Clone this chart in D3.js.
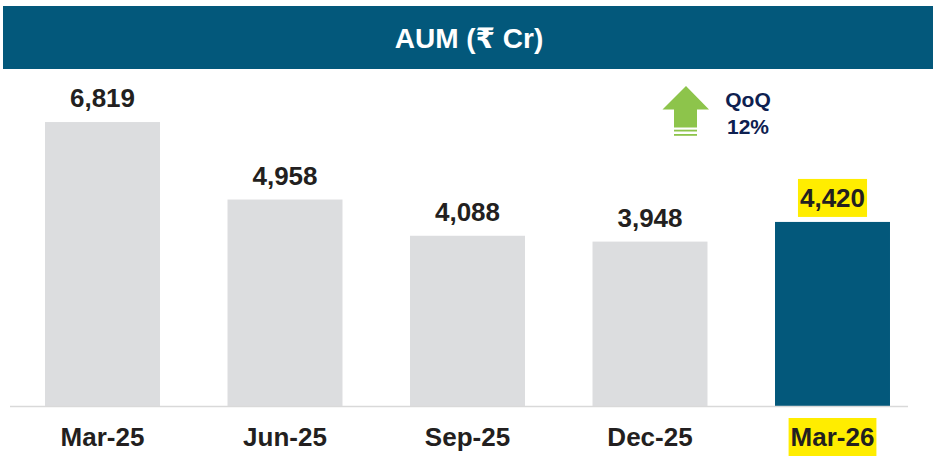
<!DOCTYPE html>
<html>
<head>
<meta charset="utf-8">
<script src="https://cdn.jsdelivr.net/npm/d3@7"></script>
<style>
  body { margin: 0; background: #fff; }
  text { font-family: "Liberation Sans", Arial, "DejaVu Sans", sans-serif; font-weight: bold; }
</style>
</head>
<body>
<div id="chart"></div>
<script>
// Data
var categories = ["Mar-25", "Jun-25", "Sep-25", "Dec-25", "Mar-26"];
var aumValues = [6819, 4958, 4088, 3948, 4420];
var valueLabels = ["6,819", "4,958", "4,088", "3,948", "4,420"];
var highlight = "Mar-26";
var titleText = "AUM (\u20B9 Cr)";
var qoqLines = ["QoQ", "12%"];

var svgWidth = 933;
var svgHeight = 456;
var baseY = 406;

var svg = d3.select("#chart")
  .append("svg")
  .attr("width", svgWidth)
  .attr("height", svgHeight);

// Title banner
svg.append("rect")
  .attr("x", 3)
  .attr("y", 6)
  .attr("width", 930)
  .attr("height", 63)
  .attr("fill", "#03587b");

svg.append("text")
  .attr("x", 469)
  .attr("y", 48)
  .attr("text-anchor", "middle")
  .attr("font-size", "28px")
  .attr("fill", "#fff")
  .text(titleText);

// Scales
var x = d3.scaleBand()
  .domain(categories)
  .range([11.25, 923.75])
  .paddingInner(0.37)
  .paddingOuter(0.185);

var y = d3.scaleLinear()
  .domain([0, 7000])
  .range([baseY, 114.5]);

// Bars
svg.selectAll(".bar")
  .data(categories)
  .enter()
  .append("rect")
  .attr("class", "bar")
  .attr("x", d => x(d))
  .attr("y", (d, i) => y(aumValues[i]))
  .attr("width", x.bandwidth())
  .attr("height", (d, i) => baseY - y(aumValues[i]))
  .attr("fill", d => d === highlight ? "#03587b" : "#dcdddf");

// Baseline
svg.append("line")
  .attr("x1", 10)
  .attr("x2", 908)
  .attr("y1", baseY + 0.5)
  .attr("y2", baseY + 0.5)
  .attr("stroke", "#d9d9d9")
  .attr("stroke-width", 1.5);

// Value labels
var valueText = svg.selectAll(".val")
  .data(categories)
  .enter()
  .append("text")
  .attr("class", "val")
  .attr("x", d => x(d) + x.bandwidth() / 2)
  .attr("y", (d, i) => y(aumValues[i]) - 15)
  .attr("text-anchor", "middle")
  .attr("font-size", "26px")
  .attr("fill", "#231f20")
  .text((d, i) => valueLabels[i]);

// Category labels
var catText = svg.selectAll(".cat")
  .data(categories)
  .enter()
  .append("text")
  .attr("class", "cat")
  .attr("x", d => x(d) + x.bandwidth() / 2)
  .attr("y", 446)
  .attr("text-anchor", "middle")
  .attr("font-size", "26px")
  .attr("fill", "#231f20")
  .text(d => d);

// Yellow highlight behind the latest period texts
function markYellow(sel) {
  sel.filter(d => d === highlight).each(function() {
    var b = this.getBBox();
    svg.insert("rect", "text")
      .attr("x", b.x - 2)
      .attr("y", b.y - 4)
      .attr("width", b.width + 4)
      .attr("height", b.height + 8)
      .attr("fill", "#ffed00");
  });
}
markYellow(valueText);
markYellow(catText);

// QoQ arrow
var arrow = svg.append("g");
arrow.append("polygon")
  .attr("points", "686,86 709,109.5 697,109.5 697,127.5 674,127.5 674,109.5 662.5,109.5")
  .attr("fill", "#8dc44b");
arrow.append("rect")
  .attr("x", 674).attr("y", 129.7).attr("width", 23).attr("height", 1.8)
  .attr("fill", "#8dc44b");
arrow.append("rect")
  .attr("x", 674).attr("y", 134).attr("width", 23).attr("height", 1.8)
  .attr("fill", "#8dc44b");

svg.selectAll(".qoq")
  .data(qoqLines)
  .enter()
  .append("text")
  .attr("class", "qoq")
  .attr("x", 748)
  .attr("y", (d, i) => 107 + i * 27)
  .attr("text-anchor", "middle")
  .attr("font-size", "21px")
  .attr("fill", "#0e2050")
  .text(d => d);
</script>
</body>
</html>
